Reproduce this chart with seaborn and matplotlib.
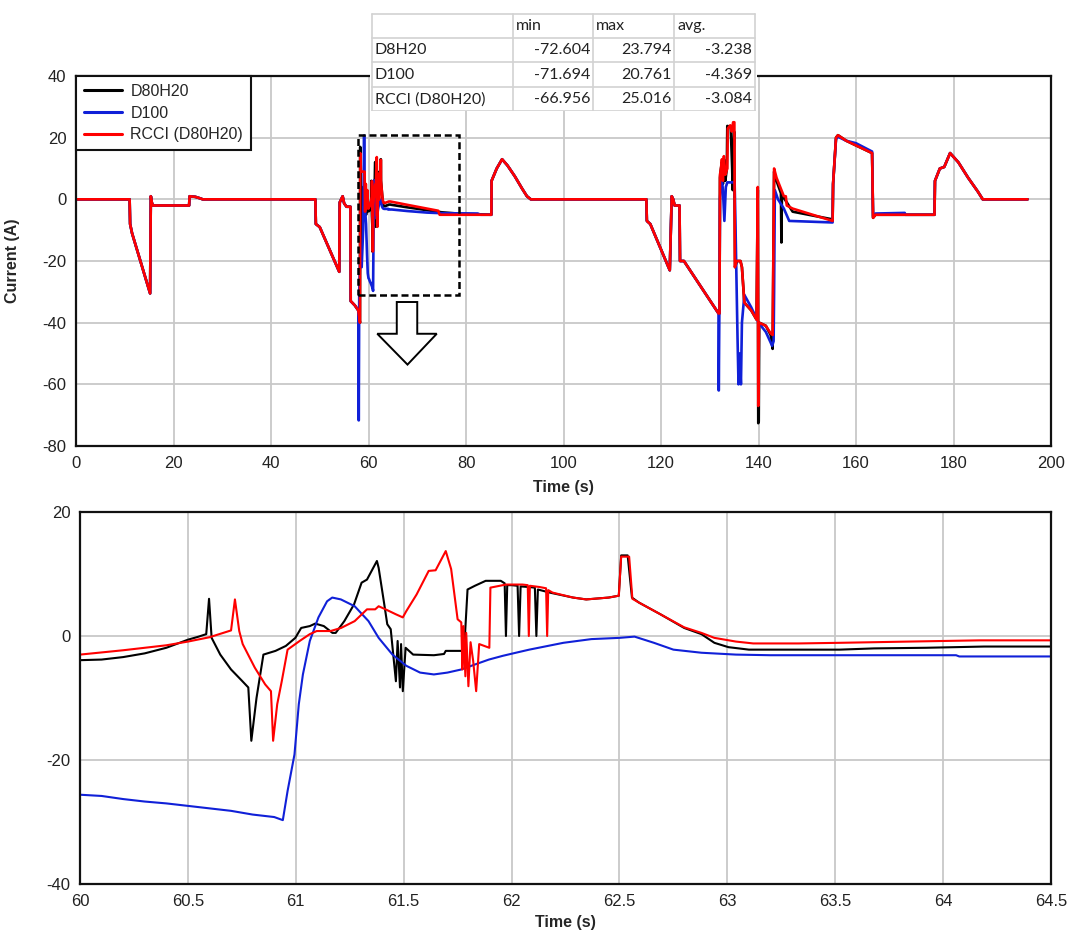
import numpy as np
import pandas as pd
import matplotlib
matplotlib.use("Agg")
import matplotlib.pyplot as plt
import seaborn as sns
from matplotlib.patches import Rectangle, Polygon

# ---------------- DATA ----------------
series_names = ["D80H20", "D100", "RCCI (D80H20)"]
series_colors = ["#000000", "#1020d8", "#ff0000"]

# zoomed window 60 - 64.5 s (bottom panel)
bk_t = [60.0, 60.1, 60.2, 60.3, 60.4, 60.5, 60.55, 60.585, 60.598, 60.61, 60.65, 60.7, 60.75, 60.78,
        60.794, 60.818, 60.85, 60.906, 60.954, 60.998, 61.025, 61.065, 61.09, 61.13, 61.17, 61.185,
        61.225, 61.27, 61.305, 61.33, 61.376, 61.384, 61.408, 61.424, 61.44, 61.464, 61.472, 61.483,
        61.488, 61.496, 61.509, 61.544, 61.64, 61.687, 61.695, 61.78, 61.796, 61.83, 61.88, 61.95,
        61.968, 61.974, 61.98, 62.0, 62.028, 62.035, 62.042, 62.08, 62.108, 62.115, 62.122, 62.177,
        62.285, 62.346, 62.45, 62.497, 62.508, 62.538, 62.558, 62.59, 62.69, 62.8, 62.88, 62.94,
        63.005, 63.1, 63.52, 63.68, 63.92, 64.19, 64.5]
bk_v = [-3.9, -3.8, -3.4, -2.8, -1.9, -0.6, -0.1, 0.3, 6.0, -0.3, -3.0, -5.4, -7.2, -8.3,
        -16.9, -10.0, -3.0, -2.4, -1.6, -0.3, 1.3, 1.6, 2.0, 1.6, 0.5, 0.5,
        2.4, 5.1, 8.6, 9.1, 12.1, 11.0, 5.6, 1.9, 1.1, -7.3, -0.8, -8.3,
        -1.3, -8.9, -1.9, -3.0, -3.1, -2.9, -2.4, -2.4, 7.5, 8.1, 8.9, 8.9,
        8.5, 0.0, 8.2, 8.2, 8.1, 0.0, 8.0, 7.9, 7.8, 0.0, 7.5, 7.0,
        6.2, 5.9, 6.2, 6.5, 13.0, 13.0, 6.2, 5.4, 3.5, 1.3, 0.3, -1.1,
        -1.8, -2.2, -2.2, -2.0, -1.9, -1.7, -1.7]

bl_t = [60.0, 60.1, 60.2, 60.3, 60.4, 60.5, 60.6, 60.7, 60.8, 60.9, 60.94, 60.962, 60.994, 61.014,
        61.033, 61.065, 61.105, 61.145, 61.169, 61.209, 61.273, 61.337, 61.384, 61.448, 61.512,
        61.576, 61.64, 61.703, 61.767, 61.83, 61.895, 61.959, 62.02, 62.082, 62.24, 62.37, 62.5,
        62.57, 62.66, 62.75, 62.88, 63.04, 63.2, 64.06, 64.075, 64.5]
bl_v = [-25.6, -25.8, -26.3, -26.7, -27.0, -27.4, -27.8, -28.2, -28.8, -29.2, -29.7, -25.0, -19.1, -11.0,
        -6.2, -0.8, 3.0, 5.6, 6.2, 5.9, 4.8, 2.4, -0.3, -3.0, -4.8,
        -5.9, -6.2, -5.9, -5.4, -4.6, -3.8, -3.2, -2.7, -2.2, -1.1, -0.5, -0.3,
        -0.1, -1.1, -2.2, -2.7, -3.0, -3.1, -3.1, -3.3, -3.3]

rd_t = [60.0, 60.2, 60.4, 60.5, 60.6, 60.7, 60.718, 60.738, 60.754, 60.81, 60.858, 60.885, 60.895,
        60.914, 60.935, 60.962, 60.986, 61.018, 61.065, 61.097, 61.161, 61.21, 61.273, 61.33, 61.368,
        61.384, 61.416, 61.464, 61.496, 61.512, 61.56, 61.616, 61.648, 61.695, 61.72, 61.75, 61.767,
        61.772, 61.777, 61.786, 61.79, 61.8, 61.81, 61.822, 61.836, 61.85, 61.897, 61.902, 61.974,
        62.05, 62.075, 62.08, 62.085, 62.13, 62.16, 62.165, 62.17, 62.19, 62.285, 62.346, 62.45,
        62.497, 62.508, 62.545, 62.56, 62.59, 62.69, 62.8, 62.88, 62.94, 63.04, 63.12, 63.33, 63.52,
        63.84, 64.17, 64.5]
rd_v = [-3.0, -2.3, -1.5, -0.9, -0.2, 0.9, 5.9, 0.8, -1.3, -5.1, -7.8, -8.9, -16.9,
        -11.0, -7.3, -2.2, -1.6, -0.8, 0.3, 0.8, 0.8, 1.3, 2.4, 4.3, 4.3,
        4.8, 4.3, 3.5, 3.0, 4.0, 6.7, 10.5, 10.6, 13.7, 10.8, 2.7, 2.2,
        -5.4, 1.6, -6.5, 0.5, -8.1, -1.0, -4.0, -8.9, -1.3, -1.9, 7.8, 8.3,
        8.3, 8.2, 0.0, 8.1, 7.9, 7.7, 0.0, 7.4, 7.0, 6.2, 5.9, 6.2,
        6.5, 12.8, 12.8, 6.0, 5.4, 3.5, 1.4, 0.5, -0.3, -0.9, -1.2, -1.2, -1.1,
        -0.9, -0.7, -0.7]

# full drive cycle (top panel): shared parts + per-series parts
lead_t = [0.0, 11.0, 11.1, 11.5, 15.2, 15.35, 15.55, 15.75, 15.85, 23.2, 23.3, 24.5, 25.5, 26.0,
          49.1, 49.2, 50.0, 54.0, 54.1, 54.7, 55.0, 55.5, 56.3, 56.35, 57.2, 57.9]
lead_v = [0, 0, -8, -11, -30.5, 1.0, -1.0, -2.0, -2.0, -2.0, 1.0, 0.8, 0.3, 0,
          0, -8, -9, -23.5, -1.0, 1.0, -1.3, -2.4, -2.4, -33, -34.4, -36]

bk58_t = [58.25, 58.3, 58.4, 58.6, 58.9, 59.1, 59.3, 59.5, 59.7, 59.9]
bk58_v = [-40, 17, -18, 2, 4, -2, 5, -5, 2, -3]
bl58_t = [57.95, 58.0, 58.1, 58.3, 58.6, 58.9, 59.1, 59.25, 59.5, 59.7, 59.85]
bl58_v = [-40, -71.7, -30, -18, -22, -10, 20.7, -2, -8, -18, -24]
rd58_t = [58.25, 58.3, 58.45, 59.2, 59.3, 59.45, 59.6, 59.75, 59.9]
rd58_v = [-40, 15, 9, 9, -4, 5, -3, 3, -2]

bk65_t = [64.8, 68.0, 72.0, 75.0, 79.0, 85.2]
bk65_v = [-1.8, -2.6, -3.5, -4.2, -4.7, -5.0]
bl65_t = [64.8, 68.0, 72.0, 75.0, 82.4, 83.0, 85.2]
bl65_v = [-3.3, -3.8, -4.3, -4.5, -4.6, -5.0, -5.0]
rd65_t = [64.8, 68.0, 72.0, 74.3, 74.6, 85.2]
rd65_v = [-0.8, -1.8, -3.0, -3.7, -5.0, -5.0]

mid_t = [85.25, 86.3, 87.4, 88.5, 90.0, 91.5, 92.5, 93.3, 117.0, 117.1, 117.8, 121.8, 122.2,
         122.5, 122.8, 123.8, 123.9, 124.7, 131.8]
mid_v = [6, 10, 13, 11, 7.5, 3.5, 1, 0, 0, -7, -8, -23, 1,
         0, -2, -2, -20, -20, -37]

bk132_t = [132.0, 132.1, 132.3, 132.5, 132.7, 132.9, 133.2, 133.5, 133.6, 134.3, 134.6, 134.7, 135.0,
           135.2, 135.6, 136.3, 136.6, 137.1, 138.5, 139.6, 139.85, 139.95, 140.05, 140.15, 141.5,
           142.5, 142.9, 143.2, 143.7, 144.6, 144.7, 144.8, 145.2, 147.0, 155.2]
bk132_v = [-37, 7, 10, 12, 5, 13, 6, 10, 23.8, 23.5, 10, 3, 22,
           -22, -20, -20, -22, -33.5, -36, -39, 3, -72.6, -72, -40, -41,
           -44, -48.5, 9, 6, 2, -14, 1, 0.5, -4, -6.5]
bl132_t = [131.85, 132.0, 132.1, 132.4, 132.7, 133.0, 133.3, 133.6, 135.1, 135.3, 135.7, 135.9,
           136.1, 136.4, 136.6, 137.1, 138.5, 139.7, 140.0, 141.5, 142.8, 143.1, 143.2, 143.35,
           144.0, 145.2, 146.3, 155.2]
bl132_v = [-62, -30, 0, 8, 3, -7, 4, 5.5, 5.5, -10, -45, -60,
           -50, -60, -40, -31, -35, -39, -40, -43, -47.5, -46, -30, 3,
           0, -3, -7, -7.5]
rd132_t = [132.0, 132.1, 132.3, 132.5, 132.7, 132.9, 133.2, 133.6, 133.7, 134.2, 134.5, 134.8, 135.05,
           135.15, 135.5, 136.3, 136.6, 137.1, 138.5, 139.6, 139.85, 139.95, 140.1, 141.5, 142.5,
           142.9, 143.2, 143.7, 145.2, 145.6, 145.8, 147.0, 155.2]
rd132_v = [-37, 8, 10, 13, 6, 14, 8, 10, 23, 24, 22, 25, 25,
           -22, -20, -20, -22, -33.5, -36, -39, 4, -67, -40, -41, -43.5,
           -44, 10, 7, 1, 1, -2, -3, -7]

tail_t = [155.3, 155.9, 156.3, 158.0, 160.0, 163.3, 163.5, 164.0, 176.1, 176.2, 177.2, 178.1,
          179.3, 181.0, 183.0, 185.0, 186.0, 195.2]
tail_v = [5, 20, 20.8, 19, 17.5, 15, -6, -5, -5, 6, 10, 10.5,
          15, 12, 7, 2.5, 0, 0]
bltail_t = [155.3, 155.9, 156.3, 158.0, 160.0, 163.3, 163.5, 164.0, 170.0, 170.1, 176.1, 176.2,
            177.2, 178.1, 179.3, 181.0, 183.0, 185.0, 186.0, 195.2]
bltail_v = [5, 19.5, 20.3, 19, 18.2, 15.5, -5.5, -4.6, -4.4, -5, -5, 6,
            10, 10.5, 15, 12, 7, 2.5, 0, 0]

# statistics table
table_cols = ["", "min", "max", "avg."]
table_rows = ["D8H20", "D100", "RCCI (D80H20)"]
table_min = ["-72.604", "-71.694", "-66.956"]
table_max = ["23.794", "20.761", "25.016"]
table_avg = ["-3.238", "-4.369", "-3.084"]

# ---------------- BUILD FRAMES ----------------
def build(name, parts):
    t = np.concatenate([p[0] for p in parts])
    v = np.concatenate([p[1] for p in parts])
    return pd.DataFrame({"t": t, "v": v, "series": name})

top_df = pd.concat([
    build("D80H20", [(lead_t, lead_v), (bk58_t, bk58_v), (bk_t, bk_v), (bk65_t, bk65_v),
                     (mid_t, mid_v), (bk132_t, bk132_v), (tail_t, tail_v)]),
    build("D100", [(lead_t, lead_v), (bl58_t, bl58_v), (bl_t, bl_v), (bl65_t, bl65_v),
                   (mid_t, mid_v), (bl132_t, bl132_v), (bltail_t, bltail_v)]),
    build("RCCI (D80H20)", [(lead_t, lead_v), (rd58_t, rd58_v), (rd_t, rd_v), (rd65_t, rd65_v),
                            (mid_t, mid_v), (rd132_t, rd132_v), (tail_t, tail_v)]),
], ignore_index=True)

bot_df = pd.concat([
    build("D80H20", [(bk_t, bk_v)]),
    build("D100", [(bl_t, bl_v)]),
    build("RCCI (D80H20)", [(rd_t, rd_v)]),
], ignore_index=True)

# ---------------- STYLE ----------------
sns.set_theme(style="whitegrid")
plt.rcParams["font.family"] = ["Liberation Sans", "DejaVu Sans"]
plt.rcParams["axes.unicode_minus"] = False
plt.rcParams["axes.edgecolor"] = "#111111"
plt.rcParams["axes.linewidth"] = 1.5
plt.rcParams["grid.color"] = "#c8c8c8"
plt.rcParams["grid.linewidth"] = 1.3

W, H = 1070, 932
fig = plt.figure(figsize=(W / 100, H / 100), dpi=100)
ax1 = fig.add_axes([76 / W, 1 - 446 / H, 975 / W, 370 / H])
ax2 = fig.add_axes([80 / W, 1 - 884 / H, 971 / W, 372 / H])

palette = dict(zip(series_names, series_colors))
sns.lineplot(data=top_df, x="t", y="v", hue="series", hue_order=series_names, palette=palette,
             sort=False, estimator=None, linewidth=1.9, ax=ax1)
sns.lineplot(data=bot_df, x="t", y="v", hue="series", hue_order=series_names, palette=palette,
             sort=False, estimator=None, linewidth=1.5, ax=ax2, legend=False)

# top axes
ax1.set_xlim(0, 200)
ax1.set_ylim(-80, 40)
ax1.set_xticks(np.arange(0, 201, 20))
ax1.set_yticks(np.arange(-80, 41, 20))
ax1.set_xlabel("Time (s)", fontsize=11.5, fontweight="bold")
ax1.set_ylabel("Current (A)", fontsize=11.5, fontweight="bold")
ax1.xaxis.set_label_coords(0.5, -0.092)
ax1.yaxis.set_label_coords(-0.057, 0.5)

# bottom axes
ax2.set_xlim(60, 64.5)
ax2.set_ylim(-40, 20)
xt2 = np.arange(60, 64.51, 0.5)
ax2.set_xticks(xt2)
ax2.set_xticklabels([f"{x:g}" for x in xt2])
ax2.set_yticks([-40, -20, 0, 20])
ax2.set_xlabel("Time (s)", fontsize=11.5, fontweight="bold")
ax2.set_ylabel("")
ax2.xaxis.set_label_coords(0.5, -0.083)

for ax in (ax1, ax2):
    ax.tick_params(length=0, pad=7, labelsize=12, labelcolor="#222222")
    ax.grid(True, color="#c8c8c8", linewidth=1.3)
    for s in ax.spines.values():
        s.set_color("#111111")
        s.set_linewidth(1.6)

handles, labels = ax1.get_legend_handles_labels()
leg = ax1.legend(handles, labels, loc="upper left", bbox_to_anchor=(0, 1), borderaxespad=0,
                 frameon=True, fancybox=False, edgecolor="#111111", framealpha=1,
                 fontsize=11.5, handlelength=2.4, handletextpad=0.5, labelspacing=0.42,
                 borderpad=0.5)
leg.get_frame().set_linewidth(1.5)
for line in leg.get_lines():
    line.set_linewidth(2.2)

# zoom marker and arrow (annotation shapes)
zoom_box = (57.8, -31.0, 78.5, 20.8)
ax1.add_patch(Rectangle((zoom_box[0], zoom_box[1]), zoom_box[2] - zoom_box[0],
                        zoom_box[3] - zoom_box[1], fill=False, ec="black", lw=1.8,
                        ls=(0, (2.8, 1.5)), zorder=6))
arrow_shape = [(65.8, -33.3), (70.0, -33.3), (70.0, -43.6), (74.0, -43.6), (68.0, -53.6),
               (61.8, -43.6), (65.8, -43.6)]
ax1.add_patch(Polygon(arrow_shape, closed=True, fc="white", ec="black", lw=1.4, zorder=6))

# statistics table overlay
tx0, tx1, ty0, ty1 = 370, 757, 12, 111
tab = fig.add_axes([tx0 / W, 1 - ty1 / H, (tx1 - tx0) / W, (ty1 - ty0) / H])
tab.set_xlim(tx0, tx1)
tab.set_ylim(ty1, ty0)
tab.axis("off")
tab.add_patch(Rectangle((tx0, ty0), tx1 - tx0, ty1 - ty0, fc="white", ec="none", zorder=0))
col_edges = [371.7, 512.7, 593.3, 674.3, 755]
row_edges = [14, 37.7, 62.3, 86.7, 111]
for xe in col_edges:
    tab.plot([xe, xe], [row_edges[0], row_edges[-1]], color="#d2d2d2", lw=1.2, zorder=1)
for ye in row_edges:
    tab.plot([col_edges[0], col_edges[-1]], [ye, ye], color="#d2d2d2", lw=1.2, zorder=1)
tfont = dict(family=["Lato", "DejaVu Sans"], fontsize=11.5, color="#222222", va="center")
for j, c in enumerate(table_cols):
    if c:
        tab.text(col_edges[j] + 3, (row_edges[0] + row_edges[1]) / 2 + 0.5, c, ha="left", **tfont)
for i, name in enumerate(table_rows):
    yc = (row_edges[i + 1] + row_edges[i + 2]) / 2 + 0.5
    tab.text(col_edges[0] + 3, yc, name, ha="left", **tfont)
    for j, val in enumerate([table_min[i], table_max[i], table_avg[i]]):
        tab.text(col_edges[j + 2] - 3, yc, val, ha="right", **tfont)

fig.savefig("out.png", dpi=100, facecolor="white")
